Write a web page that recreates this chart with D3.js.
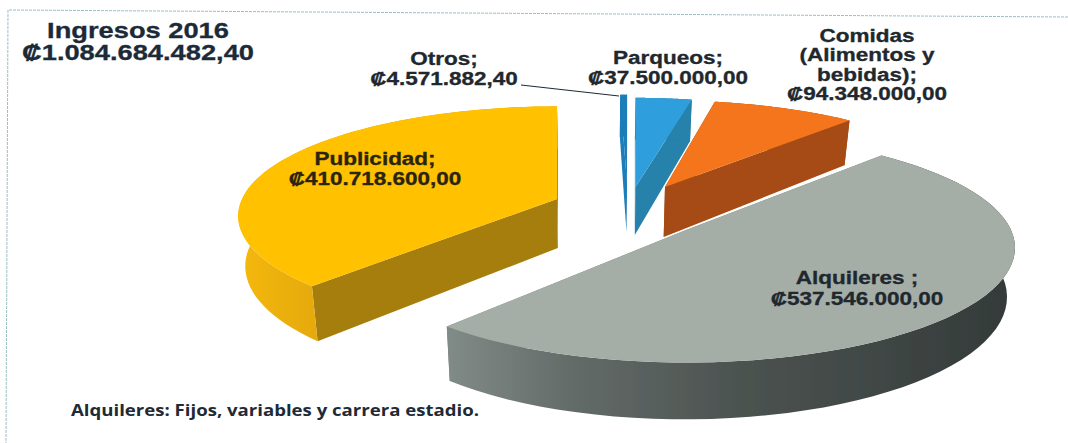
<!DOCTYPE html>
<html>
<head>
<meta charset="utf-8">
<script src="https://cdnjs.cloudflare.com/ajax/libs/d3/7.8.5/d3.min.js"></script>
<style>
  html, body { margin: 0; padding: 0; background: #fff; }
  text { font-family: "Liberation Sans", Arial, sans-serif; font-weight: bold; }
</style>
</head>
<body>
<svg id="mainsvg" width="1068" height="443"></svg>
<script>
// data
const categories = ['Alquileres', 'Publicidad', 'Otros', 'Parqueos', 'Comidas'];
const values = [537546000, 410718600, 4571882.4, 37500000, 94348000];
const valueLabels = ['₡537.546.000,00', '₡410.718.600,00', '₡4.571.882,40', '₡37.500.000,00', '₡94.348.000,00'];
const titleLines = ['Ingresos 2016', '₡1.084.684.482,40'];
const footnote = 'Alquileres: Fijos, variables y carrera estadio.';

const svg = d3.select('#mainsvg');
const deg = Math.PI / 180;
const perspective = 0.155; // far side of the pie gets smaller
const converge = 0.0004;   // walls lean in towards vanishX going down
const vanishX = 600;
const firstSlice = 45.28 * deg;

// each slice is exploded by hand, the picture has a strong perspective so a single centre does not fit
const layout = {
  Alquileres: { cx: 686, cy: 230, rx: 325, ry: 112, turn: -3.2, depth: 48, top: '#a5ada7', side: '#7d8784', wall: 'url(#grayWall)' },
  Publicidad: { cx: 557, cy: 199, rx: 315, ry: 107, turn: 0, depth: 49, top: '#ffc100', side: '#a57e08', wall: 'url(#yellowWall)' },
  Otros: { cx: 627, cy: 184, rx: 300, ry: 103, turn: -1.5, depth: 48, top: '#1a7db8', side: '#1a7db8', wall: '#1a7db8' },
  Parqueos: { cx: 635.5, cy: 187, rx: 300, ry: 103, turn: -1.5, depth: 48, top: '#2e9fdc', side: '#2581ab', wall: '#2581ab' },
  Comidas: { cx: 665, cy: 187, rx: 307, ry: 100, turn: -3.2, depth: 50, top: '#f5751b', side: '#a64c12', wall: '#a64c12' },
};

const defs = svg.append('defs');
const addGradient = (id, x1, x2, stops) => {
  const g = defs.append('linearGradient').attr('id', id)
    .attr('gradientUnits', 'userSpaceOnUse')
    .attr('x1', x1).attr('x2', x2).attr('y1', 0).attr('y2', 0);
  stops.forEach(s => g.append('stop').attr('offset', s[0]).attr('stop-color', s[1]));
};
addGradient('grayWall', 450, 1010, [[0, '#808a87'], [0.22, '#636b68'], [0.5, '#4d5452'], [1, '#343a39']]);
addGradient('yellowWall', 240, 318, [[0, '#f4b80a'], [1, '#e5a90b']]);
defs.append('filter').attr('id', 'soft')
  .append('feGaussianBlur').attr('stdDeviation', 0.5);

// page frame of the scanned slide
svg.append('path')
  .attr('d', 'M1068,17L8,10L6,443')
  .attr('fill', 'none')
  .attr('stroke', '#9dbdc6')
  .attr('stroke-width', 1)
  .attr('stroke-dasharray', '3,1');

const pie = d3.pie().sort(null).startAngle(firstSlice).endAngle(firstSlice + 2 * Math.PI);
const slices = pie(values).map((d, i) => ({ ...d, name: categories[i] }));

const project = (p, angle, r, z) => {
  const s = 1 / (1 + perspective * r * Math.cos(angle));
  const x = p.cx + p.rx * r * Math.sin(angle) * s;
  return [
    x - (x - vanishX) * converge * z,
    p.cy - p.ry * r * Math.cos(angle) * s + z * s,
  ];
};
const line = d3.line();

const rim = (p, a0, a1, z) => d3.range(0, 61).map(i => project(p, a0 + (a1 - a0) * i / 60, 1, z));

const gPie = svg.append('g').attr('filter', 'url(#soft)');
// back slices first, Alquileres is in front of everything
['Publicidad', 'Otros', 'Parqueos', 'Comidas', 'Alquileres'].forEach(name => {
  const d = slices.find(s => s.name === name);
  const p = layout[name];
  const a0 = d.startAngle + p.turn * deg;
  const a1 = d.endAngle + p.turn * deg;
  const g = gPie.append('g').attr('class', name);

  // radial faces
  [a1, a0].forEach(a => {
    g.append('path')
      .attr('d', line([project(p, a, 0, 0), project(p, a, 1, 0), project(p, a, 1, p.depth), project(p, a, 0, p.depth)]) + 'Z')
      .attr('fill', p.side);
  });
  // outer wall
  g.append('path')
    .attr('d', line(rim(p, a0, a1, 0).concat(rim(p, a0, a1, p.depth).reverse())) + 'Z')
    .attr('fill', p.wall);
  // top face
  g.append('path')
    .attr('d', line([project(p, a0, 0, 0)].concat(rim(p, a0, a1, 0))) + 'Z')
    .attr('fill', p.top);
});

// leader line of Otros
svg.append('path')
  .attr('d', 'M521,85L619,96')
  .attr('fill', 'none')
  .attr('stroke', '#1d2a33')
  .attr('stroke-width', 1);

const drawLabel = (lines, x, y, size, gap, sx, color) => {
  const g = svg.append('g').attr('transform', `translate(${x},${y}) scale(${sx},1)`);
  g.selectAll('text').data(lines).join('text')
    .attr('y', (d, i) => i * gap)
    .attr('text-anchor', 'middle')
    .attr('font-size', size)
    .attr('fill', color)
    .attr('stroke', color)
    .attr('stroke-width', 0.3)
    .text(d => d);
};

const textColor = '#20282e';
drawLabel(titleLines, 138, 38, 22, 22, 1.24, '#1c2a38');
drawLabel(['Otros;', valueLabels[2]], 444, 65, 18, 20, 1.25, textColor);
drawLabel(['Parqueos;', valueLabels[3]], 668, 64, 18, 20, 1.25, textColor);
drawLabel(['Comidas', '(Alimentos y', 'bebidas);', valueLabels[4]], 867, 42, 18, 19.5, 1.25, textColor);
drawLabel(['Publicidad;', valueLabels[1]], 375, 165, 18, 20, 1.25, '#2a2410');
drawLabel(['Alquileres ;', valueLabels[0]], 857, 284, 18, 21, 1.25, textColor);

const note = svg.append('g').attr('transform', 'translate(71,416) scale(1.2,1)');
note.append('text')
  .attr('font-size', 15.5)
  .style('font-family', '"Open Sans", sans-serif')
  .attr('fill', '#1e2a35')
  .text(footnote);
</script>
</body>
</html>
